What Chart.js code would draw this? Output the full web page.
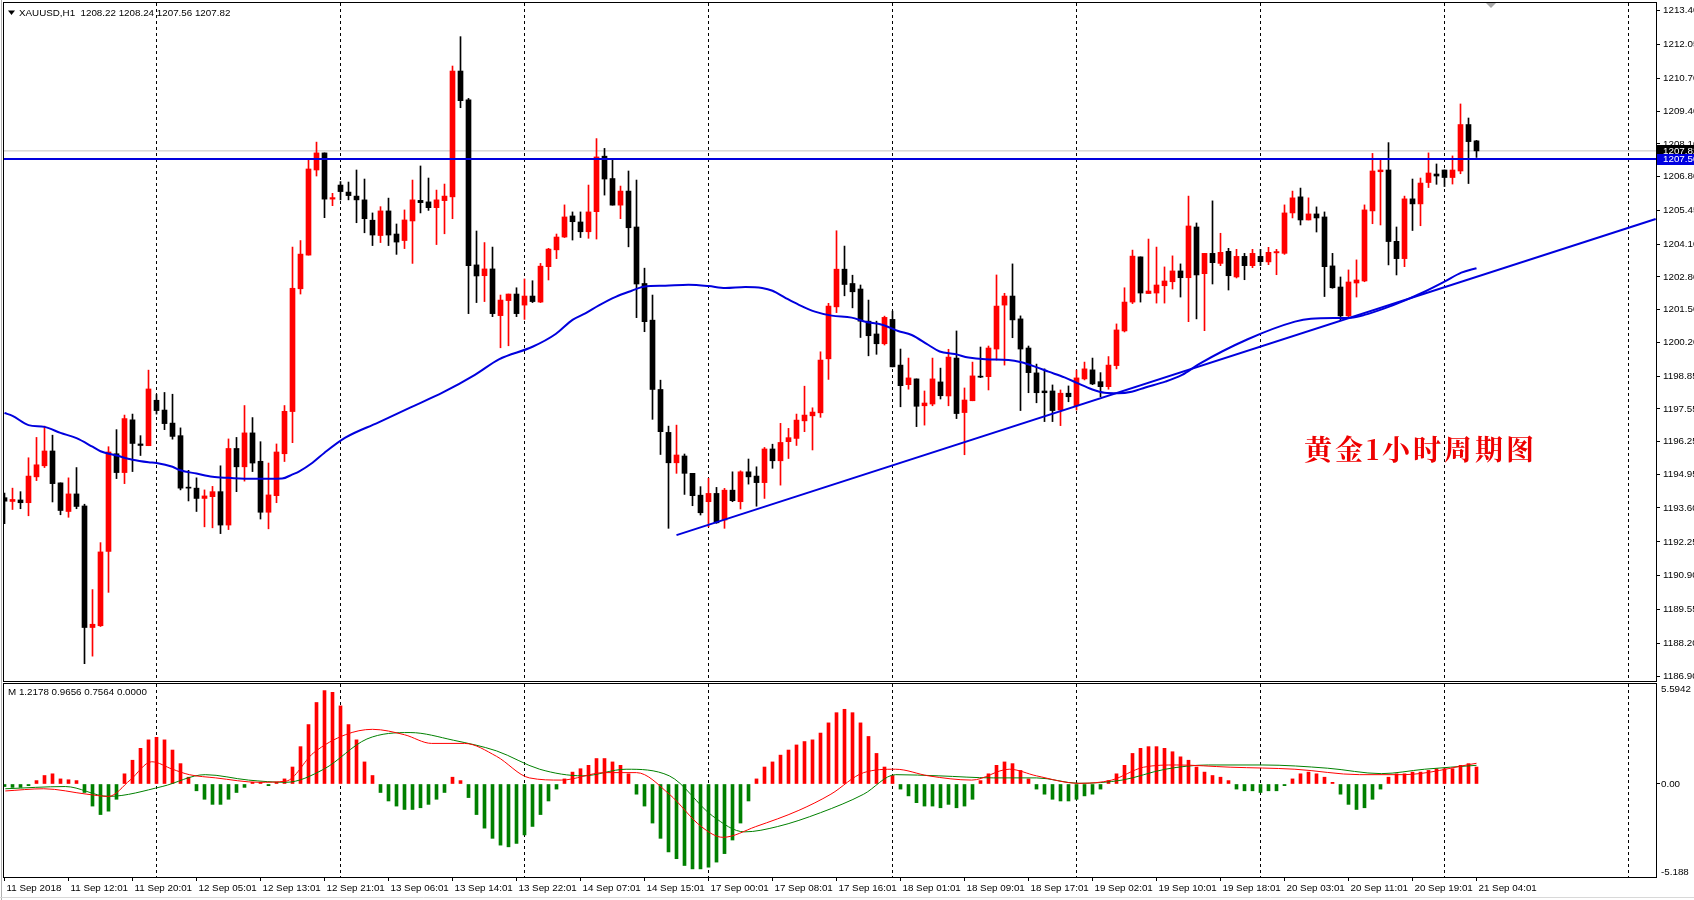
<!DOCTYPE html>
<html><head><meta charset="utf-8">
<script src="https://cdn.jsdelivr.net/npm/chart.js@4.4.0/dist/chart.umd.min.js"></script>
<style>
html,body{margin:0;padding:0;background:#fff;width:1694px;height:900px;overflow:hidden}
#wrap{position:relative;width:1694px;height:900px;background:#fff}
canvas{position:absolute;left:0}
#c1{top:0}
#c2{top:682px}
</style></head><body>
<div id="wrap"><canvas id="c1" width="1694" height="682"></canvas><canvas id="c2" width="1694" height="218"></canvas></div>
<script>
// ---------- DATA ----------
const symbolTitle = 'XAUUSD,H1  1208.22 1208.24 1207.56 1207.82';
const macdTitle = 'M 1.2178 0.9656 0.7564 0.0000';
const noteText = '黄金1小时周期图';

const opens = [1194.01,1193.86,1193.92,1193.81,1194.84,1195.28,1195.87,1194.60,1193.46,1194.16,
1193.68,1188.84,1188.91,1191.87,1195.76,1195.01,1197.11,1196.15,1196.08,1197.89,
1197.50,1196.98,1196.48,1194.43,1194.39,1193.98,1194.05,1194.25,1192.92,1195.97,
1195.24,1196.59,1195.46,1193.43,1194.09,1195.76,1197.44,1202.33,1203.67,1207.06,
1207.74,1205.90,1206.46,1206.18,1206.02,1205.87,1205.06,1204.45,1205.43,1204.51,
1204.25,1205.03,1205.85,1205.79,1205.56,1205.84,1205.99,1211.00,1209.85,1203.28,
1202.85,1203.12,1201.26,1201.86,1202.12,1201.68,1202.04,1201.80,1203.21,1203.88,
1204.39,1205.23,1204.99,1204.60,1205.40,1207.61,1206.72,1205.66,1206.22,1204.79,
1202.54,1201.08,1198.32,1196.61,1195.40,1195.67,1194.98,1194.11,1193.85,1194.18,
1193.12,1194.31,1193.85,1195.04,1194.87,1194.61,1195.95,1195.48,1196.24,1196.37,
1197.07,1197.27,1197.39,1199.54,1201.61,1203.11,1202.54,1202.32,1201.04,1200.53,
1200.14,1201.11,1199.29,1198.51,1198.74,1197.67,1197.74,1198.62,1198.06,1199.57,
1197.40,1197.87,1198.84,1198.83,1199.93,1201.68,1202.04,1201.13,1199.97,1198.98,
1198.26,1198.26,1197.50,1198.17,1197.67,1198.74,1199.10,1198.63,1198.43,1199.27,
1200.65,1201.80,1203.60,1202.14,1202.16,1202.45,1202.61,1203.04,1202.77,1204.79,
1202.93,1203.74,1203.34,1203.82,1202.80,1203.62,1203.25,1203.62,1203.40,1203.76,
1203.74,1205.35,1205.99,1205.07,1205.31,1205.19,1203.24,1202.40,1201.25,1202.56,
1202.64,1205.43,1206.99,1207.06,1204.22,1203.53,1205.91,1205.71,1206.56,1206.90,
1207.06,1206.76,1207.02,1208.87,1208.22];
const highs = [1194.19,1194.39,1194.25,1195.60,1196.41,1196.86,1196.50,1194.60,1194.80,1195.21,
1193.75,1190.35,1192.22,1196.04,1196.72,1197.30,1197.34,1196.48,1199.09,1198.12,
1198.20,1198.13,1196.79,1195.10,1194.80,1194.32,1194.46,1195.28,1196.35,1196.41,
1197.68,1197.20,1196.24,1195.39,1196.15,1197.68,1203.99,1204.25,1207.52,1208.17,
1207.74,1206.13,1206.60,1206.58,1207.06,1206.70,1205.35,1205.60,1205.94,1204.91,
1205.47,1206.66,1207.22,1206.74,1206.26,1206.50,1211.20,1212.37,1209.91,1204.63,
1204.17,1203.99,1202.08,1202.12,1202.37,1202.72,1202.65,1203.34,1203.94,1204.51,
1205.67,1205.39,1205.39,1206.46,1208.31,1207.92,1207.46,1206.42,1207.02,1206.66,
1203.15,1202.08,1198.69,1196.86,1196.90,1195.75,1194.98,1194.45,1194.78,1194.42,
1194.38,1195.04,1195.08,1195.55,1195.24,1196.01,1196.14,1196.97,1196.77,1197.34,
1198.45,1197.59,1199.82,1201.75,1204.64,1204.03,1202.87,1202.48,1201.88,1201.04,
1201.24,1201.44,1199.93,1199.57,1198.74,1198.26,1199.57,1199.17,1199.92,1200.65,
1198.38,1199.41,1200.01,1200.05,1202.88,1202.15,1203.32,1201.25,1200.05,1199.33,
1199.14,1198.50,1198.30,1198.46,1199.09,1199.41,1199.57,1198.99,1199.63,1200.93,
1202.37,1203.87,1203.60,1204.31,1203.99,1203.20,1203.64,1203.32,1206.02,1204.95,
1203.74,1205.83,1204.54,1203.94,1203.90,1203.74,1203.90,1203.90,1203.98,1203.90,
1205.67,1206.22,1206.34,1205.95,1205.59,1205.39,1203.74,1202.80,1203.08,1203.48,
1205.67,1207.72,1207.50,1208.15,1204.79,1206.02,1206.70,1206.74,1207.74,1207.30,
1207.06,1207.62,1209.69,1209.13,1208.24];
const lows = [1192.98,1193.54,1193.57,1193.29,1194.69,1195.21,1193.84,1193.33,1193.23,1193.57,
1187.40,1187.70,1188.88,1190.24,1194.77,1194.57,1195.05,1195.69,1196.08,1197.34,
1196.72,1196.34,1194.32,1193.88,1193.46,1192.85,1192.81,1192.58,1192.74,1194.25,
1194.67,1195.05,1193.16,1192.77,1193.81,1195.45,1196.20,1202.12,1203.67,1206.82,
1205.16,1205.64,1205.87,1205.87,1204.96,1204.56,1204.05,1204.17,1204.05,1203.70,
1203.93,1203.34,1205.35,1205.45,1204.09,1204.52,1205.12,1209.54,1201.34,1201.78,
1201.82,1201.22,1199.98,1200.06,1201.22,1201.11,1201.78,1201.78,1202.68,1203.53,
1204.37,1204.27,1204.37,1204.34,1204.31,1206.06,1205.66,1205.12,1204.00,1201.18,
1200.62,1197.13,1195.73,1192.79,1194.98,1194.14,1193.69,1193.32,1192.85,1192.99,
1192.79,1193.85,1193.56,1194.55,1193.67,1193.98,1195.18,1194.51,1195.57,1196.09,
1196.64,1195.91,1197.21,1198.72,1201.38,1202.05,1201.57,1200.39,1199.66,1199.72,
1200.09,1199.22,1197.63,1198.33,1196.84,1196.90,1197.67,1197.94,1197.67,1197.16,
1195.72,1197.87,1198.79,1198.30,1199.49,1199.29,1200.38,1197.48,1198.19,1197.79,
1197.04,1197.04,1196.88,1197.83,1197.50,1198.70,1198.51,1198.03,1198.33,1199.14,
1200.61,1201.74,1201.80,1202.14,1201.76,1201.76,1202.32,1202.00,1201.02,1201.13,
1200.66,1202.52,1203.25,1202.28,1202.76,1202.69,1203.17,1203.25,1203.29,1202.89,
1203.70,1205.15,1204.87,1205.07,1204.59,1202.02,1202.35,1201.09,1201.18,1202.00,
1202.61,1204.92,1204.87,1203.28,1202.88,1203.21,1204.65,1204.84,1206.36,1206.49,
1206.40,1206.50,1206.91,1206.52,1207.56];
const closes = [1193.87,1193.94,1193.81,1194.87,1195.32,1195.87,1194.57,1193.50,1194.16,1193.66,
1188.84,1188.97,1191.85,1195.83,1195.01,1197.16,1196.17,1196.09,1198.34,1197.48,
1196.96,1196.45,1194.39,1194.39,1193.98,1194.08,1194.25,1192.92,1195.97,1195.24,
1196.59,1195.39,1193.43,1194.12,1195.83,1197.45,1202.35,1203.71,1207.10,1207.74,
1205.90,1205.96,1206.20,1206.04,1205.87,1205.12,1204.47,1205.43,1204.47,1204.19,
1205.07,1205.87,1205.76,1205.56,1205.87,1206.02,1211.00,1209.82,1203.25,1202.84,
1203.12,1201.34,1201.88,1202.12,1201.34,1202.04,1201.82,1203.23,1203.91,1204.39,
1205.19,1205.00,1204.60,1205.39,1207.58,1206.70,1205.66,1206.22,1204.76,1202.52,
1201.02,1198.32,1196.64,1195.40,1195.71,1194.98,1194.09,1193.41,1194.18,1193.01,
1194.31,1193.89,1195.04,1194.84,1194.61,1195.95,1195.48,1196.21,1196.40,1197.10,
1197.30,1197.42,1199.49,1201.64,1203.11,1202.50,1202.21,1201.04,1200.46,1200.14,
1201.19,1199.22,1198.47,1198.78,1197.65,1197.78,1198.74,1198.07,1199.61,1197.36,
1197.90,1198.86,1198.81,1199.97,1201.64,1202.04,1201.09,1199.93,1198.99,1198.19,
1198.19,1197.48,1198.17,1198.03,1198.78,1199.14,1198.54,1198.43,1199.29,1200.69,
1201.80,1203.63,1202.16,1202.24,1202.48,1202.64,1203.04,1202.77,1204.83,1202.88,
1203.74,1203.37,1203.78,1202.85,1203.62,1203.25,1203.74,1203.41,1203.78,1203.81,
1205.35,1205.95,1205.07,1205.31,1205.15,1203.21,1202.37,1201.25,1202.60,1202.68,
1205.47,1207.02,1207.06,1204.21,1203.53,1205.91,1205.71,1206.54,1206.94,1206.82,
1206.76,1207.06,1208.87,1208.19,1207.82];

// moving average (read at sampled bar positions)
const maBars = [0,1,3,5,7,9,11,12,14,16,18,19,21,22,24,26,28,31,33,34.7,36,36.8,
38.5,40,42.6,46.7,50.7,54.8,58.8,61.8,66,68.9,71,72.6,74.3,76.4,78.4,79.9,82.6,85.5,88,90.1,92.6,94.7,96,97.6,99.3,
101.3,103.4,105.9,107.6,109.7,111.7,113.4,115.5,116.9,118.8,120.5,122.6,125.5,127.1,128.8,130.5,132.5,134.2,135.9,
137.5,139.2,140.9,142.6,145.1,147.2,149.3,155.4,161.3,163.3,166.7,168.3,170,172.5,175,177.5,180,182.1,184];
const maValues = [1197.38,1197.27,1196.90,1196.83,1196.59,1196.38,1196.04,1195.86,1195.69,1195.52,1195.42,1195.39,1195.24,1195.10,1194.97,1194.84,1194.80,1194.76,1194.76,1194.77,1194.94,1195.05,
1195.40,1195.80,1196.40,1197.00,1197.60,1198.20,1198.90,1199.52,1200.02,1200.53,1201.09,1201.35,1201.67,1202.01,1202.25,1202.41,1202.45,1202.49,1202.44,1202.36,1202.40,1202.36,1202.25,1201.97,1201.69,
1201.42,1201.26,1201.18,1201.02,1200.90,1200.65,1200.49,1200.09,1199.83,1199.73,1199.59,1199.52,1199.49,1199.40,1199.23,1199.03,1198.80,1198.56,1198.33,
1198.19,1198.17,1198.23,1198.40,1198.63,1198.90,1199.33,1200.32,1201.02,1201.14,1201.17,1201.18,1201.29,1201.55,1201.86,1202.21,1202.61,1202.97,1203.15];

// trend line anchors and horizontal levels
const trendBars = [84, 206.4];
const trendPrices = [1192.52, 1205.11];
const hLinePrice = 1207.50;
const bidPrice = 1207.82;

// MACD panel
const macdHist = [-0.15,-0.2,-0.2,-0.1,0.2, 0.5,0.6,0.3,0.25,0.2,
-0.5,-1.3,-1.8,-1.6,-0.9, 0.6,1.4,2.1,2.6,2.75,2.6,2.0, 1.2,0.4,
-0.4,-0.9,-1.2,-1.2,-0.9,-0.5, -0.2,0.1,0.1,-0.1,0.1,0.3,
1.0,2.2,3.5,4.8,5.5,5.4,4.6,3.5,2.6, 1.3,0.5,
-0.5,-1.0,-1.3,-1.5,-1.5,-1.4,-1.2,-0.9,-0.5, 0.4,0.2,
-0.8,-1.8,-2.6,-3.2,-3.6,-3.7,-3.5,-3.0,-2.5,-1.8,-1.0,
-0.3,0.3,0.7,0.9,1.1,1.5,1.5,1.3,1.1,0.6,
-0.6,-1.3,-2.3,-3.2,-4.0,-4.4,-4.8,-5.0,-5.0,-4.9,-4.6,-4.1,-3.3,-2.3,-1.0,
0.3,1.0,1.3,1.7,2.0,2.3,2.5,2.6,3.0,3.6,4.2,4.4,4.2,3.6,2.8,1.8, 1.0,0.5,
-0.3,-0.7,-1.1,-1.3,-1.3,-1.4,-1.2,-1.4,-1.3,-0.9,
0.2,0.6,1.1,1.3,1.2,0.8,0.3,
-0.3,-0.6,-0.9,-1.0,-1.0,-0.9,-0.7,-0.6,-0.3,
0.2,0.6,1.1,1.8,2.1,2.2,2.2,2.1,1.9,1.6,1.4,1.0, 0.7,0.5,0.4,0.2,
-0.3,-0.4,-0.4,-0.5,-0.4,-0.4,-0.1, 0.3,0.6,0.7,0.6,0.4,0.1,
-0.6,-1.2,-1.5,-1.4,-0.9,-0.3,
0.4,0.6,0.6,0.7,0.7,0.8,0.9,0.9,0.9,1.1,1.2,1.0];
const macdRedBars = [0.1,4.9,10.3,13,15.7,18.4,21,23.1,26.4,31.8,35.2,38.6,42.6,46,50,53.4,57.5,61.5,65.6,69.6,75,79,83.1,87.1,89.8,93.9,99.3,103.3,107.4,111.4,115.5,120.9,125.6,129,134.3,138.4,142.4,146.5,153.2,161.3,169.4,174.8,184];
const macdRedValues = [-0.41,-0.28,-0.60,-0.73,0.23,1.31,0.87,0.55,0.36,0.10,0.17,1.82,2.90,3.22,2.90,2.39,2.39,1.63,0.36,0.23,0.67,0.67,-0.60,-2.51,-3.14,-2.51,-1.55,-0.60,0.67,0.87,0.48,0.23,0.87,0.48,0.04,0.23,0.99,1.12,0.99,0.87,0.55,0.55,1.22];
const macdGreenBars = [0.1,7.6,13,19.7,25.1,30.5,35.2,39.9,45.3,50.7,56.1,61.5,66.9,72.3,77.7,83.1,88.5,92.5,96.6,102,107.4,111.4,116.8,123.6,129,134.3,139.7,145.1,150.5,157.3,165.4,172.1,177.5,184];
const macdGreenValues = [-0.28,-0.15,-0.73,-0.15,0.55,0.23,0.10,0.87,2.65,3.03,2.58,1.95,0.87,0.48,0.87,0.48,-1.88,-2.82,-2.51,-1.69,-0.60,0.55,0.48,0.36,0.36,0.04,0.23,0.87,1.12,1.12,0.93,0.61,0.87,1.10];

// axes
const priceTickLabels = ['1213.40','1212.05','1210.70','1209.40','1208.10','1206.80','1205.45','1204.10','1202.80','1201.50','1200.20','1198.85','1197.55','1196.25','1194.95','1193.60','1192.25','1190.90','1189.55','1188.20','1186.90'];
const macdTickLabels = ['5.5942','0.00','-5.188'];
const timeLabels = ['11 Sep 2018','11 Sep 12:01','11 Sep 20:01','12 Sep 05:01','12 Sep 13:01','12 Sep 21:01','13 Sep 06:01','13 Sep 14:01','13 Sep 22:01','14 Sep 07:01','14 Sep 15:01','17 Sep 00:01','17 Sep 08:01','17 Sep 16:01','18 Sep 01:01','18 Sep 09:01','18 Sep 17:01','19 Sep 02:01','19 Sep 10:01','19 Sep 18:01','20 Sep 03:01','20 Sep 11:01','20 Sep 19:01','21 Sep 04:01'];
const timeLabelBars = [0,8,16,24,32,40,48,56,64,72,80,88,96,104,112,120,128,136,144,152,160,168,176,184];
const dayStartBars = [19,42,65,88,111,134,157,180,203];

// ---------- STYLE / LAYOUT ----------
const FONT = '"Liberation Sans", Arial, sans-serif';
const FS = 9.8;
const X_MIN = -0.0625, X_MAX = 206.4375;
const P_MIN = 1186.71, P_MAX = 1213.71;
const M_MIN = -5.477, M_MAX = 5.889;
const BULL = '#ff0000', BEAR = '#000000', LINEBLUE = '#0000dd';
Chart.defaults.font.family = FONT;
Chart.defaults.font.size = FS;
Chart.defaults.color = '#000';

const candleColors = closes.map((c,i)=> c >= opens[i] ? BULL : BEAR);

function noPad(s){ s.paddingTop = 0; s.paddingBottom = 0; s.paddingLeft = 0; s.paddingRight = 0; }

function gridAxis(){
  return {
    type:'linear', min:X_MIN, max:X_MAX, offset:false, position:'bottom', weight:1,
    ticks:{display:false},
    grid:{offset:false, drawTicks:false, color:'#000', lineWidth:1, drawOnChartArea:true},
    border:{display:false, dash:[3,3]},
    afterBuildTicks:s=>{ s.ticks = dayStartBars.map(v=>({value:v})); },
    afterFit:s=>{ s.height = 0; noPad(s); }
  };
}

// ---------- MAIN CHART ----------
const mainDeco = {
  id:'mainDeco',
  afterDraw(chart){
    const {ctx, chartArea:a, scales:{y}} = chart;
    ctx.save();
    ctx.strokeStyle = '#000'; ctx.lineWidth = 1;
    ctx.strokeRect(a.left-0.5, a.top-0.5, a.right-a.left+1, a.bottom-a.top+1);
    ctx.strokeStyle = '#b0b0b0';
    ctx.beginPath(); ctx.moveTo(1.5,0); ctx.lineTo(1.5,682); ctx.stroke();
    // header
    ctx.fillStyle = '#000';
    ctx.beginPath(); ctx.moveTo(8,10.5); ctx.lineTo(15,10.5); ctx.lineTo(11.5,15); ctx.closePath(); ctx.fill();
    ctx.font = FS+'px '+FONT; ctx.textBaseline = 'middle'; ctx.textAlign='left';
    ctx.fillText(symbolTitle, 19, 13);
    // chart shift marker
    ctx.fillStyle = '#a8a8a8';
    ctx.beginPath(); ctx.moveTo(1486,3); ctx.lineTo(1496,3); ctx.lineTo(1491,8); ctx.closePath(); ctx.fill();
    // price boxes
    const yb = Math.round(y.getPixelForValue(bidPrice));
    ctx.fillStyle = '#000'; ctx.fillRect(a.right+1, yb-6, 40, 11);
    ctx.fillStyle = '#fff'; ctx.fillText(bidPrice.toFixed(2), a.right+7, yb);
    const yh = Math.round(y.getPixelForValue(hLinePrice));
    ctx.fillStyle = '#0000e0'; ctx.fillRect(a.right+1, yh-5, 40, 11);
    ctx.fillStyle = '#fff'; ctx.fillText(hLinePrice.toFixed(2), a.right+7, yh+0.5);
    // note
    ctx.fillStyle = '#ee0000';
    ctx.font = 'bold 28px "Noto Serif CJK SC", "Noto Sans CJK SC", serif';
    try { ctx.letterSpacing = '3px'; } catch(e) {}
    ctx.fillText(noteText, 1304, 449);
    ctx.restore();
  }
};

new Chart(document.getElementById('c1'), {
  type:'bar',
  data:{ datasets:[
    { type:'line', data:[{x:X_MIN,y:hLinePrice},{x:X_MAX,y:hLinePrice}], borderColor:LINEBLUE, borderWidth:2, pointRadius:0 },
    { type:'line', data:trendBars.map((b,i)=>({x:b,y:trendPrices[i]})), borderColor:LINEBLUE, borderWidth:2, pointRadius:0 },
    { type:'line', data:maBars.map((b,i)=>({x:b,y:maValues[i]})), borderColor:LINEBLUE, borderWidth:2, pointRadius:0, cubicInterpolationMode:'monotone' },
    { type:'bar', data:opens.map((o,i)=>({x:i,y:[o,closes[i]]})), backgroundColor:candleColors, barThickness:5, grouped:false, minBarLength:1, borderWidth:0 },
    { type:'bar', data:lows.map((l,i)=>({x:i,y:[l,highs[i]]})), backgroundColor:candleColors, barThickness:1, grouped:false, borderWidth:0 },
    { type:'line', data:[{x:X_MIN,y:bidPrice},{x:X_MAX,y:bidPrice}], borderColor:'#c0c0c0', borderWidth:1, pointRadius:0 }
  ]},
  options:{
    responsive:false, animation:false, events:[],
    layout:{padding:{left:4, top:3, right:0, bottom:1}},
    plugins:{legend:{display:false}, tooltip:{enabled:false}},
    scales:{
      x: gridAxis(),
      y:{
        type:'linear', position:'right', min:P_MIN, max:P_MAX,
        afterBuildTicks:s=>{ s.ticks = priceTickLabels.map(t=>({value:parseFloat(t)})); },
        afterFit:s=>{ s.width = 38; noPad(s); },
        ticks:{autoSkip:false, padding:3, color:'#000', font:{size:FS, family:FONT}, callback:(v,i)=>priceTickLabels[i]},
        grid:{drawOnChartArea:false, drawTicks:true, tickLength:4, color:'#000'},
        border:{display:true, color:'#000'}
      }
    }
  },
  plugins:[mainDeco]
});

// ---------- MACD CHART ----------
const macdDeco = {
  id:'macdDeco',
  afterDraw(chart){
    const {ctx, chartArea:a} = chart;
    ctx.save();
    ctx.strokeStyle = '#000'; ctx.lineWidth = 1;
    ctx.strokeRect(a.left-0.5, a.top-0.5, a.right-a.left+1, a.bottom-a.top+1);
    ctx.strokeStyle = '#b0b0b0';
    ctx.beginPath(); ctx.moveTo(1.5,0); ctx.lineTo(1.5,218); ctx.stroke();
    ctx.strokeStyle = '#d8d8d8';
    ctx.beginPath(); ctx.moveTo(0,215.5); ctx.lineTo(1694,215.5); ctx.stroke();
    ctx.fillStyle = '#000';
    ctx.font = FS+'px '+FONT; ctx.textBaseline = 'middle'; ctx.textAlign='left';
    ctx.fillText(macdTitle, 8, 10);
    ctx.restore();
  }
};

new Chart(document.getElementById('c2'), {
  type:'bar',
  data:{ datasets:[
    { type:'line', data:macdRedBars.map((b,i)=>({x:b,y:macdRedValues[i]})), borderColor:'#ff0000', borderWidth:1, pointRadius:0, cubicInterpolationMode:'monotone' },
    { type:'line', data:macdGreenBars.map((b,i)=>({x:b,y:macdGreenValues[i]})), borderColor:'#008000', borderWidth:1, pointRadius:0, cubicInterpolationMode:'monotone' },
    { type:'bar', data:macdHist.map((v,i)=>({x:i,y:v})), backgroundColor:macdHist.map(v=> v>=0 ? '#ff0000' : '#008000'), barThickness:3, grouped:false, borderWidth:0 }
  ]},
  options:{
    responsive:false, animation:false, events:[],
    layout:{padding:{left:4, top:2, right:0, bottom:0}},
    plugins:{legend:{display:false}, tooltip:{enabled:false}},
    scales:{
      x:{
        type:'linear', min:X_MIN, max:X_MAX, offset:false, position:'bottom', weight:0,
        afterBuildTicks:s=>{ s.ticks = timeLabelBars.map(v=>({value:v})); },
        afterFit:s=>{ s.height = 23; noPad(s); },
        ticks:{autoSkip:false, maxRotation:0, minRotation:0, align:'start', labelOffset:2, padding:1, color:'#000', font:{size:FS, family:FONT}, callback:(v,i)=>timeLabels[i]},
        grid:{offset:false, drawOnChartArea:false, drawTicks:true, tickLength:4, color:'#000'},
        border:{display:true, color:'#000'}
      },
      xg: gridAxis(),
      y:{
        type:'linear', position:'right', min:M_MIN, max:M_MAX,
        afterBuildTicks:s=>{ s.ticks = macdTickLabels.map(t=>({value:parseFloat(t)})); },
        afterFit:s=>{ s.width = 38; noPad(s); },
        ticks:{autoSkip:false, padding:1, color:'#000', font:{size:FS, family:FONT}, callback:(v,i)=>macdTickLabels[i]},
        grid:{drawOnChartArea:false, drawTicks:true, tickLength:4, color:'#000',
              tickColor:c=> (c.tick && c.tick.value===0) ? '#000' : 'rgba(0,0,0,0)'},
        border:{display:true, color:'#000'}
      }
    }
  },
  plugins:[macdDeco]
});
</script>
</body></html>
